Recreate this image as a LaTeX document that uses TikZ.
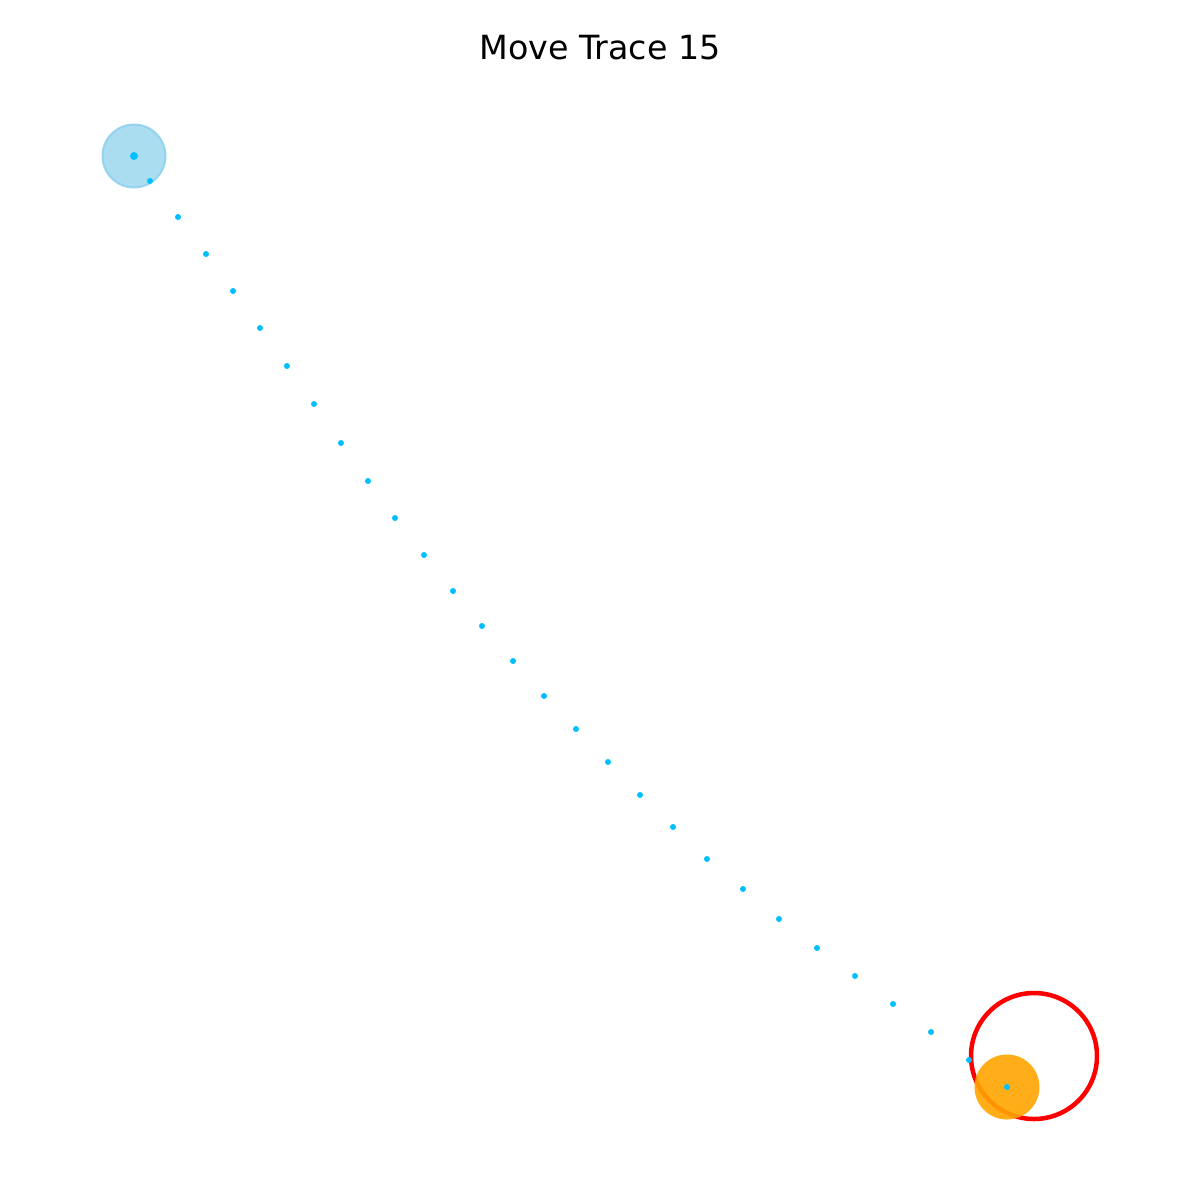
\documentclass[tikz,border=0pt]{standalone}
\usepackage{fontspec}
\setmainfont{DejaVu Sans}
\usetikzlibrary{positioning}

\definecolor{skyblue}{RGB}{135,206,235}
\definecolor{deepsky}{RGB}{0,191,255}
\definecolor{goalorange}{RGB}{255,165,0}

\begin{document}
\begin{tikzpicture}[
    x=1pt, y=-1pt,
    startdisc/.style={
        circle,
        inner sep=0pt,
        minimum size=63pt,
        fill=skyblue,
        fill opacity=0.7,
        draw=skyblue,
        draw opacity=0.8,
        line width=2pt
    },
    goaldisc/.style={
        circle,
        inner sep=0pt,
        minimum size=65pt,
        fill=goalorange,
        fill opacity=0.9
    },
    targetring/.style={
        circle,
        inner sep=0pt,
        minimum size=126pt,
        draw=red,
        line width=4.5pt
    },
    tracedot/.style={
        circle,
        inner sep=0pt,
        minimum size=6pt,
        fill=deepsky
    }
]

% Frame
\useasboundingbox (0,0) rectangle (1200,1200);

% Title
\node[font=\fontsize{33.3}{38}\selectfont, anchor=base] (title) at (600,59) {Move Trace 15};

% Start, target and end
\node[startdisc] (start) at (134,156) {};
\node[targetring] (target) at (1034,1056) {};
\node[goaldisc] (goal) at (1007,1087) {};

% Trace
\node[tracedot, minimum size=8pt] (p0) at (134,156) {};
\foreach \i/\px/\py in {1/150/181, 2/178/217, 3/206/254, 4/233/291, 5/260/328,
    6/287/366, 7/314/404, 8/341/443, 9/368/481, 10/395/518, 11/424/555,
    12/453/591, 13/482/626, 14/513/661, 15/544/696, 16/576/729, 17/608/762,
    18/640/795, 19/673/827, 20/707/859, 21/743/889, 22/779/919, 23/817/948,
    24/855/976, 25/893/1004, 26/931/1032, 27/969/1060, 28/1007/1087}
    \node[tracedot] (p\i) at (\px,\py) {};

\end{tikzpicture}
\end{document}
